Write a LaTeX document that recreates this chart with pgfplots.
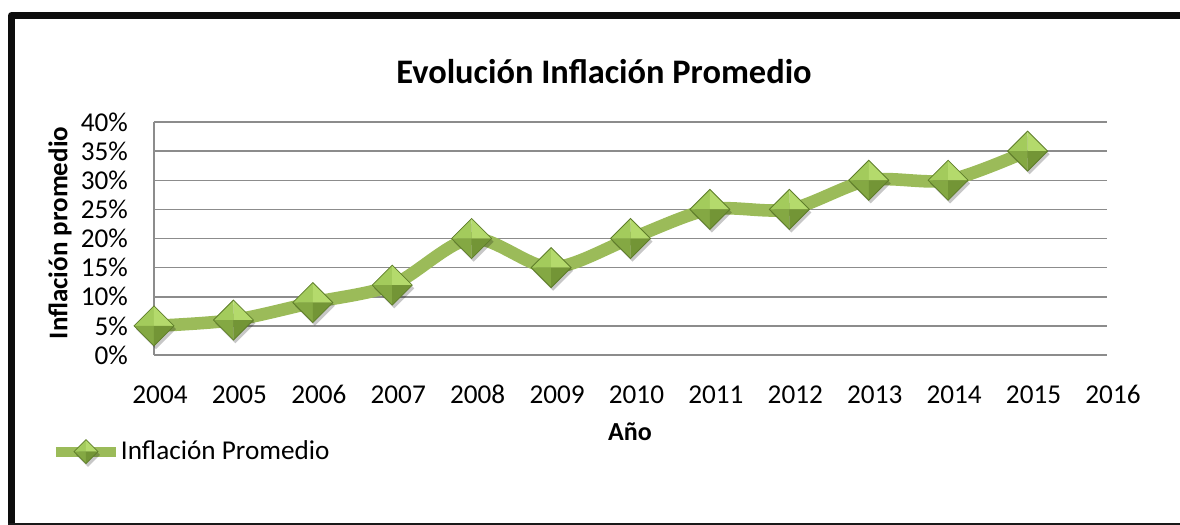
\documentclass[border=0pt]{standalone}
\usepackage{fontspec}
\setmainfont{Carlito}
\usepackage{pgfplots}
\pgfplotsset{compat=1.18}
\definecolor{linegreen}{HTML}{9BBB59}
\definecolor{gemTL}{HTML}{A3CB5C}
\definecolor{gemTR}{HTML}{B4DA6C}
\definecolor{gemBL}{HTML}{84A843}
\definecolor{gemBR}{HTML}{739536}
\definecolor{gemEdge}{HTML}{5E7D2A}
\definecolor{gridgray}{HTML}{8C8C8C}
\pgfdeclareplotmark{gem}{%
  \pgfpathmoveto{\pgfpointadd{\pgfqpoint{-\pgfplotmarksize}{0pt}}{\pgfqpoint{1pt}{-1.6pt}}}%
  \pgfpathlineto{\pgfpointadd{\pgfqpoint{0pt}{\pgfplotmarksize}}{\pgfqpoint{1pt}{-1.6pt}}}%
  \pgfpathlineto{\pgfpointadd{\pgfqpoint{\pgfplotmarksize}{0pt}}{\pgfqpoint{1pt}{-1.6pt}}}%
  \pgfpathlineto{\pgfpointadd{\pgfqpoint{0pt}{-\pgfplotmarksize}}{\pgfqpoint{1pt}{-1.6pt}}}%
  \pgfpathclose
  \pgfsetfillcolor{black}\pgfsetfillopacity{0.22}\pgfusepath{fill}%
  \pgfsetfillopacity{1}%
  \pgfpathmoveto{\pgfqpoint{-\pgfplotmarksize}{0pt}}%
  \pgfpathlineto{\pgfqpoint{0pt}{\pgfplotmarksize}}%
  \pgfpathlineto{\pgfqpoint{0pt}{0pt}}\pgfpathclose
  \pgfsetfillcolor{gemTL}\pgfusepath{fill}%
  \pgfpathmoveto{\pgfqpoint{\pgfplotmarksize}{0pt}}%
  \pgfpathlineto{\pgfqpoint{0pt}{\pgfplotmarksize}}%
  \pgfpathlineto{\pgfqpoint{0pt}{0pt}}\pgfpathclose
  \pgfsetfillcolor{gemTR}\pgfusepath{fill}%
  \pgfpathmoveto{\pgfqpoint{-\pgfplotmarksize}{0pt}}%
  \pgfpathlineto{\pgfqpoint{0pt}{-\pgfplotmarksize}}%
  \pgfpathlineto{\pgfqpoint{0pt}{0pt}}\pgfpathclose
  \pgfsetfillcolor{gemBL}\pgfusepath{fill}%
  \pgfpathmoveto{\pgfqpoint{\pgfplotmarksize}{0pt}}%
  \pgfpathlineto{\pgfqpoint{0pt}{-\pgfplotmarksize}}%
  \pgfpathlineto{\pgfqpoint{0pt}{0pt}}\pgfpathclose
  \pgfsetfillcolor{gemBR}\pgfusepath{fill}%
  \pgfpathmoveto{\pgfqpoint{-\pgfplotmarksize}{0pt}}%
  \pgfpathlineto{\pgfqpoint{0pt}{\pgfplotmarksize}}%
  \pgfpathlineto{\pgfqpoint{\pgfplotmarksize}{0pt}}%
  \pgfpathlineto{\pgfqpoint{0pt}{-\pgfplotmarksize}}%
  \pgfpathclose
  \pgfsetlinewidth{0.4pt}\pgfsetstrokecolor{gemEdge}\pgfusepath{stroke}%
}
\begin{document}
\begin{tikzpicture}[x=1pt,y=1pt]
\useasboundingbox (0,0) rectangle (590,262.5);
\draw[line width=3.5pt, color=black!95, line join=round] (5.75,0) -- (5.75,254.75) -- (592,254.75);
\draw[line width=0.8pt, color=black!90] (4,0.4) -- (590,0.4);
\node[font=\fontsize{17.2}{20}\selectfont\bfseries] at (302,226.5) {Evolución Inflación Promedio};
\node[font=\fontsize{13.5}{16}\selectfont\bfseries, rotate=90] at (30,146) {Inflación promedio};
\node[font=\fontsize{13}{15}\selectfont\bfseries] at (315,46.5) {Año};
\begin{axis}[
  at={(77pt,85pt)}, anchor=south west,
  scale only axis, width=476.5pt, height=116.5pt,
  xmin=2004, xmax=2016, ymin=0, ymax=40,
  xtick={2004,2005,...,2016},
  ytick={0,5,...,40},
  axis lines=left,
  axis line style={draw=gridgray, line width=0.75pt, -},
  ymajorgrids, grid style={draw=gridgray, line width=0.75pt},
  major tick length=0pt,
  clip=false,
  /pgf/number format/1000 sep={},
  /pgf/number format/assume math mode=true,
  ticklabel style={font=\fontsize{13.6}{16}\selectfont},
  yticklabel={\pgfmathprintnumber{\tick}\%},
  yticklabel style={anchor=east, xshift=-9.5pt},
  xticklabel style={anchor=base, xshift=3pt, yshift=-24pt},
  legend style={at={(axis description cs:-0.1085,-0.4206)}, anchor=west,
    draw=none, fill=none, inner sep=0pt, font=\fontsize{13.6}{16}\selectfont,
    nodes={inner sep=0pt}},
  legend image code/.code={\draw[#1, line width=5pt, mark size=6pt, mark repeat=2, mark phase=2]
    plot coordinates {(0pt,0pt)(15pt,0pt)(30pt,0pt)};},
]
\addplot[color=linegreen, line width=6.3pt, smooth, tension=0.5, mark=gem, mark size=10pt]
  coordinates {
  (2004,5) (2005,6) (2006,9) (2007,12) (2008,20) (2009,15)
  (2010,20) (2011,25) (2012,25) (2013,30) (2014,30) (2015,35)
  };
\addlegendentry{Inflación Promedio}
\end{axis}
\end{tikzpicture}
\end{document}
